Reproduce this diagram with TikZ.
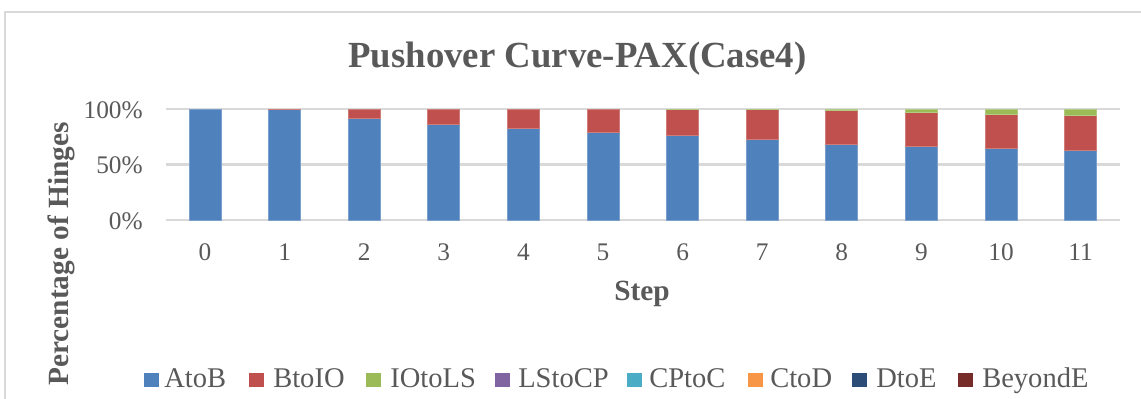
\documentclass[tikz,border=0pt]{standalone}
\usepackage{fontspec}
\setmainfont{Liberation Serif}
\usepackage{xcolor}
\usepackage{tikz}
\usetikzlibrary{positioning}
\definecolor{texto}{HTML}{595959}
\definecolor{corGrade}{HTML}{D9D9D9}
\definecolor{serieA}{HTML}{4F81BD}
\definecolor{serieB}{HTML}{C0504D}
\definecolor{serieC}{HTML}{9BBB59}
\definecolor{serieD}{HTML}{8064A2}
\definecolor{serieE}{HTML}{4BACC6}
\definecolor{serieF}{HTML}{F79646}
\definecolor{serieG}{HTML}{2C4D75}
\definecolor{serieH}{HTML}{772C2A}
\tikzset{
    moldura/.style={draw=corGrade, line width=1},
    grade/.style={draw=corGrade, line width=1.5},
    barra/.style={line width=0.5},
    rotulo/.style={text=texto, inner sep=0pt, font=\fontsize{19}{19}\selectfont},
    titulo/.style={text=texto, inner sep=0pt, font=\fontsize{27.6}{28}\selectfont\bfseries},
    eixoTitulo/.style={text=texto, inner sep=0pt, font=\fontsize{22}{22}\selectfont\bfseries},
    legenda/.style={text=texto, inner sep=0pt, font=\fontsize{21.4}{22}\selectfont}
}

\begin{document}
\begin{tikzpicture}[x=0.75pt, y=-0.75pt]
    \useasboundingbox (0,0) rectangle (1141,399);
    \draw[moldura] (5,399) -- (5,12) -- (1141,12);

    \node[titulo, anchor=base] (titulo) at (577.5,68) {Pushover Curve-PAX(Case4)};

    % grade e rotulos do eixo vertical
    \foreach \p/\y in {100/109, 50/164.5, 0/220} {
        \draw[grade] (166,\y) -- (1120,\y);
        \node[rotulo, anchor=east] (yt\p) at (143,\y+1) {\p\%};
    }

    % barras empilhadas: AtoB, BtoIO, IOtoLS
    \foreach \i/\a/\b/\c in {0/100/0/0, 1/99.7/0.3/0, 2/91.6/8.4/0, 3/85.9/14.1/0,
            4/82.3/17.7/0, 5/78.7/21.3/0, 6/76.0/23.7/0.3, 7/73.1/26.6/0.3,
            8/68.6/29.9/1.5, 9/66.2/31.1/2.7, 10/64.4/31.1/4.5, 11/62.6/32.0/5.4} {
        \pgfmathsetmacro\xc{205+79.6*\i}
        \pgfmathsetmacro\ya{220-1.11*\a}
        \pgfmathsetmacro\yb{\ya-1.11*\b}
        \pgfmathsetmacro\yc{\yb-1.11*\c}
        \filldraw[barra, fill=serieA, draw=serieA!75!white] (\xc-16,220) rectangle (\xc+16,\ya);
        \ifdim \b pt>0pt
            \filldraw[barra, fill=serieB, draw=serieB!75!white] (\xc-16,\ya) rectangle (\xc+16,\yb);
        \fi
        \ifdim \c pt>0pt
            \filldraw[barra, fill=serieC, draw=serieC!75!white] (\xc-16,\yb) rectangle (\xc+16,\yc);
        \fi
        \node[rotulo, anchor=base] (xt\i) at (\xc,260) {\i};
    }

    \node[eixoTitulo, anchor=base] (xlabel) at (642,300) {Step};
    \node[eixoTitulo, rotate=90] (ylabel) at (61,254) {Percentage of Hinges};

    % legenda
    \foreach \nome/\cor/\xq/\xt in {AtoB/serieA/144/164, BtoIO/serieB/249/273,
            IOtoLS/serieC/366/390, LStoCP/serieD/495/518, CPtoC/serieE/627/649,
            CtoD/serieF/748/770, DtoE/serieG/852/876, BeyondE/serieH/958/982} {
        \fill[\cor] (\xq,373) rectangle (\xq+15,387);
        \node[legenda, anchor=base west] (lg\nome) at (\xt,387) {\nome};
    }
\end{tikzpicture}
\end{document}
